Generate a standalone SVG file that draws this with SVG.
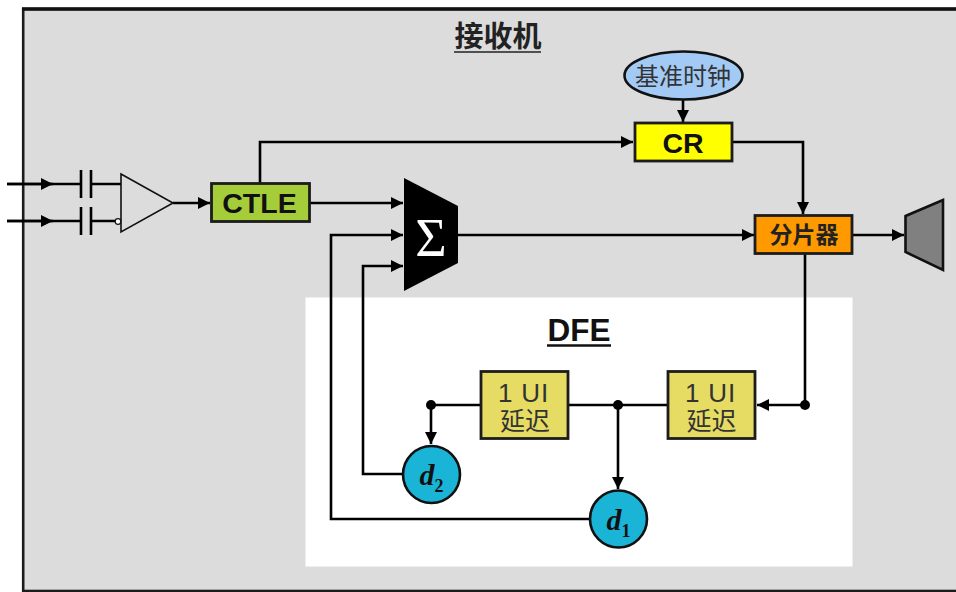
<svg xmlns="http://www.w3.org/2000/svg" width="956" height="592" viewBox="0 0 956 592">
<style>
.w{fill:none;stroke:#000;stroke-width:2.6}
.a{fill:#000;stroke:none}
.b{stroke:#1c1c1c;stroke-width:2.8}
.sf{font-family:"Liberation Sans","Noto Sans CJK SC",sans-serif}
.cjk{font-family:"Noto Sans CJK SC",sans-serif}
.tm{font-family:"Liberation Serif",serif;font-style:italic;font-weight:bold}
text{text-anchor:middle}
</style>
<defs>
<marker id="arr" markerUnits="userSpaceOnUse" markerWidth="13" markerHeight="14" refX="12" refY="7" orient="auto"><path d="M0,1 L12,7 L0,13 Z" fill="#000"/></marker>
</defs>
<rect width="956" height="592" fill="#fff"/>
<g id="receiver">
<rect x="23.2" y="9" width="940" height="582" fill="#dcdcdc" stroke="#1c1c1c" stroke-width="2.6"/>
<line x1="22" y1="9" x2="956" y2="9" stroke="#111" stroke-width="3.6"/>
<text class="cjk" x="498" y="47" font-size="29" font-weight="700" fill="#222">接收机</text>
<line x1="454" y1="52" x2="541" y2="52" stroke="#222" stroke-width="1.6"/>
</g>
<g id="dfe">
<rect x="305.5" y="297.5" width="547" height="269" fill="#fff"/>
<text class="sf" x="579" y="341" font-size="31.5" font-weight="700" fill="#111">DFE</text>
<line x1="547" y1="345.5" x2="611" y2="345.5" stroke="#111" stroke-width="2.4"/>
</g>
<g id="connectors">
<path class="w" d="M7,184 H81 M91,184 H122"/>
<path class="w" d="M7,221 H81 M91,221 H117"/>
<path class="w" d="M7,184 H53" marker-end="url(#arr)"/>
<path class="w" d="M7,221 H53" marker-end="url(#arr)"/>
<path class="w" d="M81,170 V198 M91,170 V198 M81,207 V235 M91,207 V235"/>
<path class="w" d="M173,203 H210" marker-end="url(#arr)"/>
<path class="w" d="M260,183 V142 H633" marker-end="url(#arr)"/>
<path class="w" d="M683,100 V122" marker-end="url(#arr)"/>
<path class="w" d="M733,142 H803 V214" marker-end="url(#arr)"/>
<path class="w" d="M310,203 H403" marker-end="url(#arr)"/>
<path class="w" d="M457,235 H754" marker-end="url(#arr)"/>
<path class="w" d="M853,235 H904" marker-end="url(#arr)"/>
<path class="w" d="M805,254 V405 H757" marker-end="url(#arr)"/>
<path class="w" d="M668,405 H568 M481,405 H431 V444" marker-end="url(#arr)"/>
<path class="w" d="M618,405 V489" marker-end="url(#arr)"/>
<path class="w" d="M402,474 H363 V266 H403" marker-end="url(#arr)"/>
<path class="w" d="M589,519 H331 V235 H403" marker-end="url(#arr)"/>
<circle class="a" cx="805" cy="405" r="5"/>
<circle class="a" cx="618" cy="405" r="5"/>
<circle class="a" cx="431" cy="405" r="5"/>
</g>
<g id="amp">
<path d="M121,174 L173,203 L121,232 Z" fill="#dcdcdc" stroke="#111" stroke-width="1.6"/>
<circle cx="118" cy="221.5" r="2.8" fill="#fff" stroke="#111" stroke-width="1.2"/>
</g>
<g id="ctle">
<rect class="b" x="211.5" y="183.5" width="98" height="38" fill="#a5cd39"/>
<text class="sf" x="259.5" y="213" font-size="28.5" font-weight="700" fill="#111">CTLE</text>
</g>
<g id="refclk">
<ellipse cx="683.5" cy="75.5" rx="59" ry="24" fill="#a3caf5" stroke="#111" stroke-width="2.6"/>
<text class="cjk" x="683" y="85" font-size="24" fill="#333">基准时钟</text>
</g>
<g id="cr">
<rect class="b" x="635" y="123" width="97" height="38" fill="#ffff00"/>
<text class="sf" x="683" y="153" font-size="28.5" font-weight="700" fill="#111">CR</text>
</g>
<g id="sum">
<path d="M404,178 L458,206 V263 L404,291 Z" fill="#000"/>
<text x="431" y="256" font-family="Liberation Serif,serif" font-size="54" fill="#fff">Σ</text>
</g>
<g id="slicer">
<rect class="b" x="755" y="215.5" width="97" height="38" fill="#ff9900"/>
<text class="cjk" x="804" y="243" font-size="23" font-weight="700" fill="#222">分片器</text>
</g>
<g id="out">
<path d="M905.5,216 L943,200 V270 L905.5,252 Z" fill="#808080" stroke="#111" stroke-width="2.6"/>
</g>
<g id="delay2">
<rect class="b" x="481" y="371.5" width="87" height="67" fill="#e6dc64"/>
<text class="sf" x="523.5" y="402" font-size="26" letter-spacing="0.8" fill="#333">1 UI</text>
<text class="cjk" x="525" y="430" font-size="25" fill="#333">延迟</text>
</g>
<g id="delay1">
<rect class="b" x="668" y="371.5" width="87" height="67" fill="#e6dc64"/>
<text class="sf" x="710.5" y="402" font-size="26" letter-spacing="0.8" fill="#333">1 UI</text>
<text class="cjk" x="711.5" y="430" font-size="25" fill="#333">延迟</text>
</g>
<g id="d2">
<circle cx="431.5" cy="474.5" r="28.5" fill="#1ab4d7" stroke="#111" stroke-width="2.6"/>
<text class="tm" x="431.5" y="485" font-size="30" fill="#111">d<tspan font-size="18" font-style="normal" dy="7">2</tspan></text>
</g>
<g id="d1">
<circle cx="618.5" cy="519" r="28.5" fill="#1ab4d7" stroke="#111" stroke-width="2.6"/>
<text class="tm" x="618.5" y="530" font-size="30" fill="#111">d<tspan font-size="18" font-style="normal" dy="7">1</tspan></text>
</g>
</svg>
